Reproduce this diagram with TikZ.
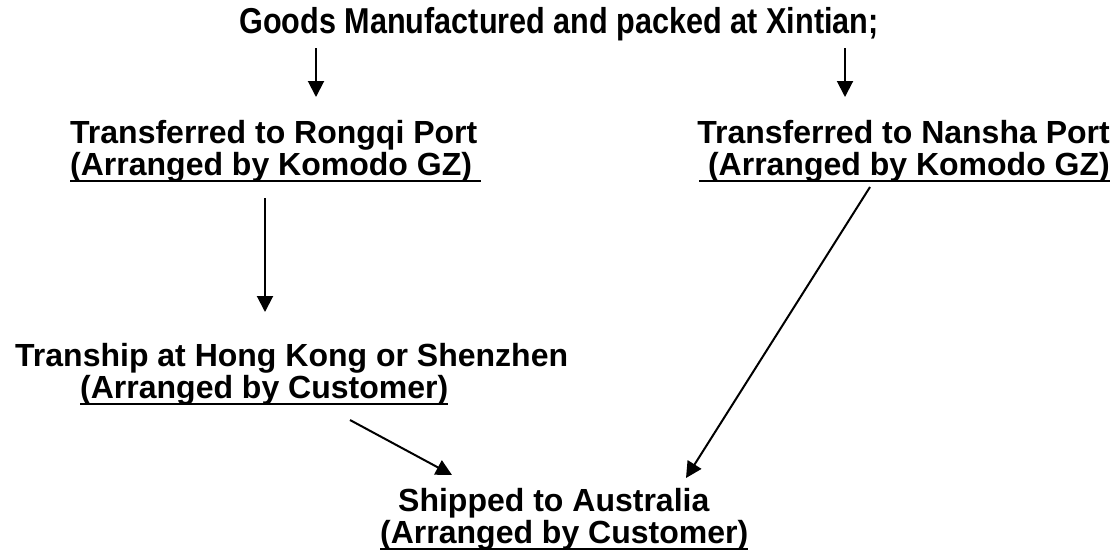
\documentclass[tikz,border=0pt]{standalone}
\usepackage{fontspec}
\setmainfont{Liberation Sans}
\newfontfamily\narrowfont[FakeStretch=0.85]{Liberation Sans}
\usetikzlibrary{arrows.meta}
\newcommand{\undrl}[1]{\setbox0\hbox{#1}\rlap{\rule[-7pt]{\wd0}{2.5pt}}\box0}
\tikzset{
  lbl/.style={font=\bfseries\fontsize{32}{32}\selectfont, inner sep=0pt, align=left},
  ttl/.style={font=\narrowfont\bfseries\fontsize{36}{36}\selectfont, inner sep=0pt},
  arr/.style={-{Triangle[length=16pt,width=16pt]}, line width=2pt}
}
\begin{document}
\begin{tikzpicture}[x=1pt, y=-1pt]
\useasboundingbox (0,0) rectangle (1118,555);
\node[ttl, anchor=base] (title) at (559,33) {Goods Manufactured and packed at Xintian;};
\node[lbl, anchor=base west] (rongqi) at (70,175) {Transferred to Rongqi Port\\\undrl{(Arranged by Komodo GZ)\ }};
\node[lbl, anchor=base east, align=right] (nansha) at (1110,175) {Transferred to Nansha Port\\\undrl{\ (Arranged by Komodo GZ)}};
\node[lbl, anchor=base west] (tranship) at (15,398) {Tranship at Hong Kong or Shenzhen\\\hspace*{65pt}\undrl{(Arranged by Customer)}};
\node[lbl, anchor=base west] (shipped) at (380,543) {\hspace*{18pt}Shipped to Australia\\\undrl{(Arranged by Customer)}};
% arrows
\draw[arr] ([shift={(-243,15)}]title.base) -- ([shift={(246,-78)}]rongqi.base west);
\draw[arr] ([shift={(286,15)}]title.base) -- ([shift={(-265,-78)}]nansha.base east);
\draw[arr] ([shift={(195,23)}]rongqi.base west) -- ([shift={(250,-86)}]tranship.base west);
\draw[arr] ([shift={(335,22)}]tranship.base west) -- ([shift={(72,-68)}]shipped.base west);
\draw[arr] ([shift={(-240,12)}]nansha.base east) -- ([shift={(306,-65)}]shipped.base west);
\end{tikzpicture}
\end{document}
